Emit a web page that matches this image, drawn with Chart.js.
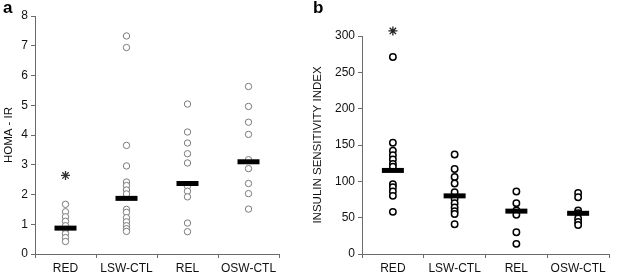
<!DOCTYPE html>
<html>
<head>
<meta charset="utf-8">
<script src="https://cdn.jsdelivr.net/npm/chart.js@4.4.1/dist/chart.umd.min.js"></script>
<style>
  html, body { margin: 0; padding: 0; background: #fff; }
  #wrap { position: relative; width: 625px; height: 275px; overflow: hidden; }
  .panel { position: absolute; top: 0; height: 275px; }
  .tag { position: absolute; font: bold 17px "Liberation Sans", Arial, sans-serif; color: #000; }
</style>
</head>
<body>
<div id="wrap">
  <div class="panel" style="left:0;width:295px"><canvas id="chartA"></canvas></div>
  <div class="panel" style="left:309px;width:316px"><canvas id="chartB"></canvas></div>
  <div class="tag" style="left:3px;top:-2px">a</div>
  <div class="tag" style="left:313px;top:-2px">b</div>
</div>
<script>
  const groups = ['RED', 'LSW-CTL', 'REL', 'OSW-CTL'];

  // panel a: HOMA-IR
  const homaRed = [1.67, 1.42, 1.25, 1.1, 0.95, 0.82, 0.68, 0.55, 0.42];
  const homaLsw = [7.33, 6.94, 3.65, 2.96, 2.42, 2.3, 2.15, 2.02, 1.5, 1.4, 1.22, 1.08, 0.95, 0.85, 0.76];
  const homaRel = [5.04, 4.1, 3.73, 3.37, 3.06, 2.28, 2.11, 1.92, 1.04, 0.75];
  const homaOsw = [5.63, 4.96, 4.43, 4.02, 3.17, 2.87, 2.37, 2.03, 1.51];
  const homaMeans = [0.87, 1.87, 2.37, 3.1];
  const homaStar = [{ x: 'RED', y: 2.64 }];
  const homaTicks = [0, 1, 2, 3, 4, 5, 6, 7, 8];

  // panel b: insulin sensitivity index
  const isiRed = [271, 153, 142, 136, 130, 124, 120, 96, 92, 86, 80, 58];
  const isiLsw = [137, 117, 106, 97, 85, 76, 70, 64, 59, 55, 41];
  const isiRel = [86, 70, 60, 54, 30, 14];
  const isiOsw = [84, 78, 60, 56, 49, 44, 40];
  const isiMeans = [115, 80, 59, 56];
  const isiStar = [{ x: 'RED', y: 307 }];
  const isiTicks = [0, 50, 100, 150, 200, 250, 300];

  const font = { family: '"Liberation Sans", Arial, sans-serif', size: 12 };
  const axisColor = '#6b6b6b';

  const toPoints = (lists) => lists.flatMap((vals, i) => vals.map(y => ({ x: groups[i], y })));
  const toMeans = (means) => means.map((y, i) => ({ x: groups[i], y }));

  function makeChart(id, opts) {
    new Chart(document.getElementById(id), {
      type: 'scatter',
      data: {
        labels: groups,
        datasets: [
          {
            data: toMeans(opts.means),
            pointStyle: 'line',
            pointRadius: 11,
            borderWidth: 5,
            borderColor: '#000',
            order: 0
          },
          {
            data: toPoints(opts.lists),
            pointStyle: 'circle',
            pointRadius: 3.2,
            borderWidth: opts.dotWidth,
            borderColor: opts.dotColor,
            backgroundColor: '#fff',
            order: 1
          },
          {
            data: opts.star,
            pointStyle: 'star',
            pointRadius: 4.5,
            borderWidth: 1.3,
            borderColor: opts.starColor,
            clip: false,
            order: 0
          }
        ]
      },
      options: {
        responsive: true,
        maintainAspectRatio: false,
        animation: false,
        layout: { padding: opts.padding },
        plugins: { legend: { display: false }, tooltip: { enabled: false } },
        scales: {
          x: {
            type: 'category',
            labels: groups,
            offset: true,
            grid: { offset: true, drawOnChartArea: false, tickLength: 4, color: axisColor },
            border: { color: axisColor },
            ticks: { font, color: '#111', padding: 3, maxRotation: 0, minRotation: 0, autoSkip: false },
            afterFit: (scale) => { scale.height = 21; }
          },
          y: {
            min: opts.ticks[0],
            max: opts.ticks[opts.ticks.length - 1],
            afterBuildTicks: (scale) => { scale.ticks = opts.ticks.map(value => ({ value })); },
            grid: { drawOnChartArea: false, tickLength: 4, color: axisColor },
            border: { color: axisColor },
            ticks: { font, color: '#111', padding: 3 },
            title: { display: true, text: opts.title, font: { ...font, size: 11.5 }, color: '#111', padding: { top: 2, bottom: 2 } },
            afterFit: (scale) => { scale.width = opts.yWidth; }
          }
        }
      }
    });
  }

  makeChart('chartA', {
    lists: [homaRed, homaLsw, homaRel, homaOsw],
    means: homaMeans,
    star: homaStar,
    ticks: homaTicks,
    title: 'HOMA - IR',
    dotColor: '#7a7a7a',
    dotWidth: 1,
    starColor: '#333',
    yWidth: 35,
    padding: { top: 15, right: 5, left: 0, bottom: 0 }
  });

  makeChart('chartB', {
    lists: [isiRed, isiLsw, isiRel, isiOsw],
    means: isiMeans,
    star: isiStar,
    ticks: isiTicks,
    title: 'INSULIN SENSITIVITY INDEX',
    dotColor: '#000',
    dotWidth: 1.5,
    starColor: '#222',
    yWidth: 53,
    padding: { top: 36, right: 2, left: 0, bottom: 0 }
  });
</script>
</body>
</html>
